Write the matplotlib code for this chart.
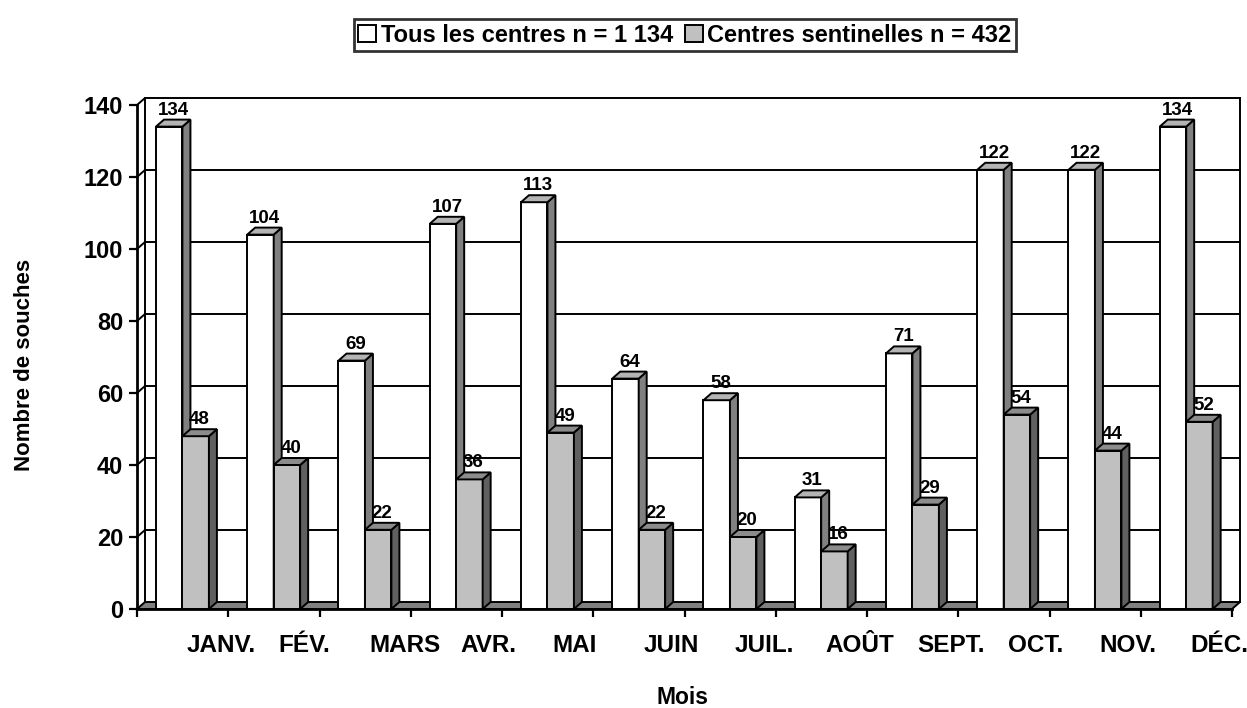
import matplotlib
matplotlib.use('Agg')
import matplotlib.pyplot as plt
from matplotlib.patches import Polygon, Patch

# ---- data ----
months = ['JANV.', 'FÉV.', 'MARS', 'AVR.', 'MAI', 'JUIN', 'JUIL.', 'AOÛT',
          'SEPT.', 'OCT.', 'NOV.', 'DÉC.']
tous = [134, 104, 69, 107, 113, 64, 58, 31, 71, 122, 122, 134]
sentinelles = [48, 40, 22, 36, 49, 22, 20, 16, 29, 54, 44, 52]
series_names = ['Tous les centres n = 1 134', 'Centres sentinelles n = 432']
yticks = [0, 20, 40, 60, 80, 100, 120, 140]
ylabel = 'Nombre de souches'
xlabel = 'Mois'

plt.rcParams['font.family'] = ['Liberation Sans', 'DejaVu Sans']
plt.rcParams['font.weight'] = 'bold'

W, H = 1247, 708
fig = plt.figure(figsize=(W / 100, H / 100), dpi=100)
ax = fig.add_axes([137 / W, (H - 609) / H, (1232 - 137) / W, (609 - 105) / H])
ax.patch.set_visible(False)
n = len(months)
ax.set_xlim(0, n)
ax.set_ylim(0, 140)

# depth offsets in data units (8 px right, 7 px up)
DX = 8 / ((1232 - 137) / n)
DY = 7 / (504 / 140)
LW = 1.4

# back wall & side wall gridlines
for v in yticks[1:]:
    ax.plot([0, DX, n + DX], [v, v + DY, v + DY], color='black', lw=LW,
            zorder=1, clip_on=False, solid_joinstyle='miter')
ax.plot([DX, DX], [DY, 140 + DY], color='black', lw=LW, zorder=1, clip_on=False)
ax.plot([n + DX, n + DX], [DY, 140 + DY], color='black', lw=LW, zorder=1, clip_on=False)

# floor
ax.add_patch(Polygon([(0, 0), (n, 0), (n + DX, DY), (DX, DY)], closed=True,
                     facecolor='#808080', edgecolor='black', lw=LW, zorder=2,
                     clip_on=False, joinstyle='miter'))

off = 0.208
bw = 0.29

styles = [
    dict(front='#ffffff', side='#808080', top='#b4b4b4', z=3),
    dict(front='#c0c0c0', side='#606060', top='#8c8c8c', z=4),
]

for s, (vals, st) in enumerate(zip([tous, sentinelles], styles)):
    xs = [i + off + s * bw for i in range(n)]
    ax.bar(xs, vals, bw, align='edge', color=st['front'], edgecolor='black',
           lw=LW, zorder=st['z'], clip_on=False)
    for x0, v in zip(xs, vals):
        ax.add_patch(Polygon([(x0 + bw, 0), (x0 + bw + DX, DY), (x0 + bw + DX, v + DY), (x0 + bw, v)],
                             closed=True, facecolor=st['side'], edgecolor='black', lw=LW,
                             zorder=st['z'], clip_on=False, joinstyle='miter'))
        ax.add_patch(Polygon([(x0, v), (x0 + DX, v + DY), (x0 + bw + DX, v + DY), (x0 + bw, v)],
                             closed=True, facecolor=st['top'], edgecolor='black', lw=LW,
                             zorder=st['z'], clip_on=False, joinstyle='miter'))
        ax.text(x0 + bw / 2 + DX / 2, v + DY + 0.3, str(v), ha='center', va='bottom',
                fontsize=13.5, fontweight='bold', zorder=10)

# axes styling
for sp in ['top', 'right']:
    ax.spines[sp].set_visible(False)
for sp in ['left', 'bottom']:
    ax.spines[sp].set_linewidth(2)
    ax.spines[sp].set_zorder(5)

ax.set_yticks(yticks)
ax.set_yticklabels([str(v) for v in yticks])
ax.tick_params(axis='y', direction='out', length=6, width=1.6, pad=4, labelsize=17)
ax.set_xticks(range(n + 1))
ax.set_xticklabels([])
ax.set_xticks([i + 0.548 for i in range(n)], minor=True)
ax.set_xticklabels(months, minor=True, ha='left')
ax.tick_params(axis='x', which='major', direction='out', length=6, width=1.6)
ax.tick_params(axis='x', which='minor', length=0, pad=18, labelsize=17.5)
for lab in ax.get_yticklabels() + ax.get_xticklabels(minor=True):
    lab.set_fontweight('bold')

fig.text(683 / W, 1 - 697 / H, xlabel, ha='center', va='center', fontsize=16.5, fontweight='bold')
fig.text(25 / W, 1 - 365 / H, ylabel, ha='center', va='center', rotation=90,
         fontsize=16, fontweight='bold')

handles = [Patch(facecolor=st['front'], edgecolor='black', lw=1.4) for st in styles]
leg = fig.legend(handles, series_names, loc='center', bbox_to_anchor=(685 / W, 1 - 35 / H),
                 ncol=2, fontsize=17, frameon=True, fancybox=False, handlelength=0.75,
                 handleheight=0.75, handletextpad=0.2, columnspacing=0.5, borderpad=0.2,
                 borderaxespad=0)
leg.get_frame().set_edgecolor('black')
leg.get_frame().set_linewidth(2)
for t in leg.get_texts():
    t.set_fontweight('bold')

fig.savefig('out.png', dpi=100)
